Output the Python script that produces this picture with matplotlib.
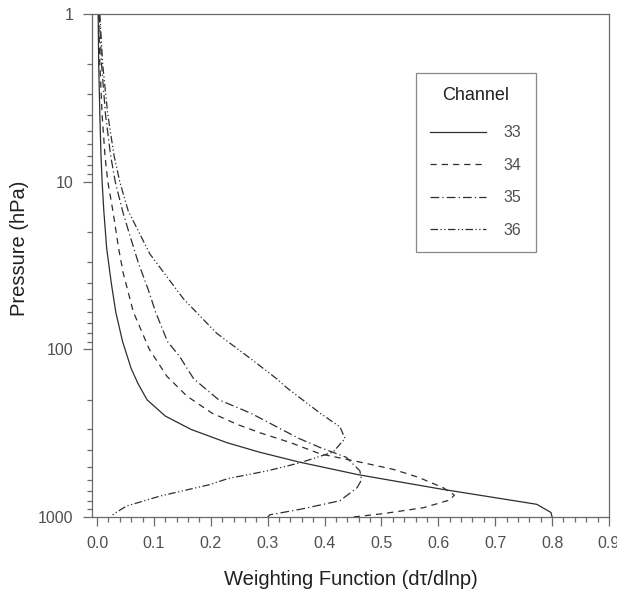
import numpy as np
import matplotlib
matplotlib.use('Agg')
import matplotlib.pyplot as plt
from matplotlib.ticker import LogLocator, FixedLocator, NullFormatter, FormatStrFormatter

plt.rcParams['font.family'] = ['Liberation Sans', 'DejaVu Sans']

# weighting functions per channel, pressure in hPa
p33 = [1, 2, 4, 7, 10, 15, 25, 40, 60, 90, 130, 160, 200, 250, 300, 360, 410, 470, 560, 680, 840, 940, 1000]
w33 = [0.002, 0.003, 0.005, 0.007, 0.009, 0.012, 0.017, 0.025, 0.033, 0.045, 0.060, 0.072, 0.088,
       0.120, 0.165, 0.228, 0.285, 0.355, 0.460, 0.603, 0.773, 0.798, 0.800]

p34 = [1, 2, 4, 7, 10, 15, 25, 35, 60, 100, 145, 190, 240, 280, 315, 360, 420, 475, 520, 580, 670,
       740, 790, 880, 955, 1000]
w34 = [0.003, 0.005, 0.009, 0.014, 0.019, 0.028, 0.038, 0.046, 0.064, 0.092, 0.123, 0.158, 0.202,
       0.246, 0.287, 0.340, 0.392, 0.468, 0.521, 0.565, 0.609, 0.628, 0.621, 0.574, 0.503, 0.450]

p35 = [1, 2, 4, 7, 10, 15, 20, 30, 45, 60, 90, 110, 150, 200, 240, 290, 340, 385, 440, 530, 600,
       670, 800, 900, 970, 1000]
w35 = [0.004, 0.008, 0.015, 0.024, 0.032, 0.045, 0.056, 0.072, 0.091, 0.103, 0.124, 0.145, 0.170,
       0.214, 0.270, 0.316, 0.355, 0.392, 0.438, 0.462, 0.465, 0.457, 0.427, 0.357, 0.304, 0.300]

p36 = [1, 2, 4, 7, 10, 15, 27, 50, 80, 115, 150, 170, 240, 290, 340, 410, 475, 530, 590, 640, 750,
       860, 960, 1000]
w36 = [0.005, 0.010, 0.019, 0.030, 0.040, 0.055, 0.093, 0.152, 0.210, 0.272, 0.316, 0.334, 0.392,
       0.427, 0.436, 0.415, 0.357, 0.300, 0.230, 0.199, 0.111, 0.052, 0.029, 0.025]

channels = ['33', '34', '35', '36']
xticks = [0.0, 0.1, 0.2, 0.3, 0.4, 0.5, 0.6, 0.7, 0.8, 0.9]
yticks = [1, 10, 100, 1000]

line_col = '#2e2e2e'
axis_col = '#6a6a6a'
text_col = '#505050'

styles = ['-', (0, (5, 4)), (0, (7, 2.5, 1, 2.5)), (0, (6, 2, 1, 2, 1, 2))]

fig = plt.figure(figsize=(6.17, 5.97), dpi=100)
ax = fig.add_axes([92/617, 1-517/597, (609-92)/617, (517-14)/597])

data = [(w33, p33), (w34, p34), (w35, p35), (w36, p36)]
handles = []
for (w, p), ls, ch in zip(data, styles, channels):
    h, = ax.plot(w, p, color=line_col, lw=0.9, linestyle=ls, label=ch)
    handles.append(h)

ax.set_yscale('log')
ax.set_ylim(1000, 1)
ax.set_xlim(-0.0088, 0.9)

ax.xaxis.set_major_locator(FixedLocator(xticks))
ax.xaxis.set_minor_locator(FixedLocator(np.arange(0, 0.9001, 0.02)))
ax.xaxis.set_major_formatter(FormatStrFormatter('%.1f'))
ax.yaxis.set_major_locator(FixedLocator(yticks))
ax.yaxis.set_minor_locator(LogLocator(base=10, subs=np.arange(2, 10)))
ax.yaxis.set_minor_formatter(NullFormatter())
ax.set_yticklabels([str(t) for t in yticks])

ax.tick_params(which='major', direction='out', length=6.5, width=0.9, color=axis_col,
               labelsize=11.5, labelcolor=text_col, pad=7)
ax.tick_params(which='minor', direction='out', length=3.5, width=0.9, color=axis_col)
for s in ax.spines.values():
    s.set_color(axis_col)
    s.set_linewidth(0.9)

ax.set_xlabel('Weighting Function (d\u03c4/dlnp)', fontsize=14.5, color='#202020', labelpad=14)
ax.set_ylabel('Pressure (hPa)', fontsize=14.5, color='#202020')
ax.yaxis.set_label_coords(-0.122, 0.535)

leg = ax.legend(handles, channels, title='Channel', loc='upper left',
                bbox_to_anchor=(416/617, 1-73/597), bbox_transform=fig.transFigure,
                borderaxespad=0, frameon=True, fancybox=False, shadow=False,
                fontsize=11.5, title_fontsize=13, handlelength=3.5, handletextpad=1.1,
                labelspacing=1.1, borderpad=0.9)
leg.get_frame().set_edgecolor(axis_col)
leg.get_frame().set_linewidth(0.9)
leg._legend_box.sep = 15
for t in leg.get_texts():
    t.set_color(text_col)
leg.get_title().set_color('#202020')

fig.savefig('out.png', dpi=100)
